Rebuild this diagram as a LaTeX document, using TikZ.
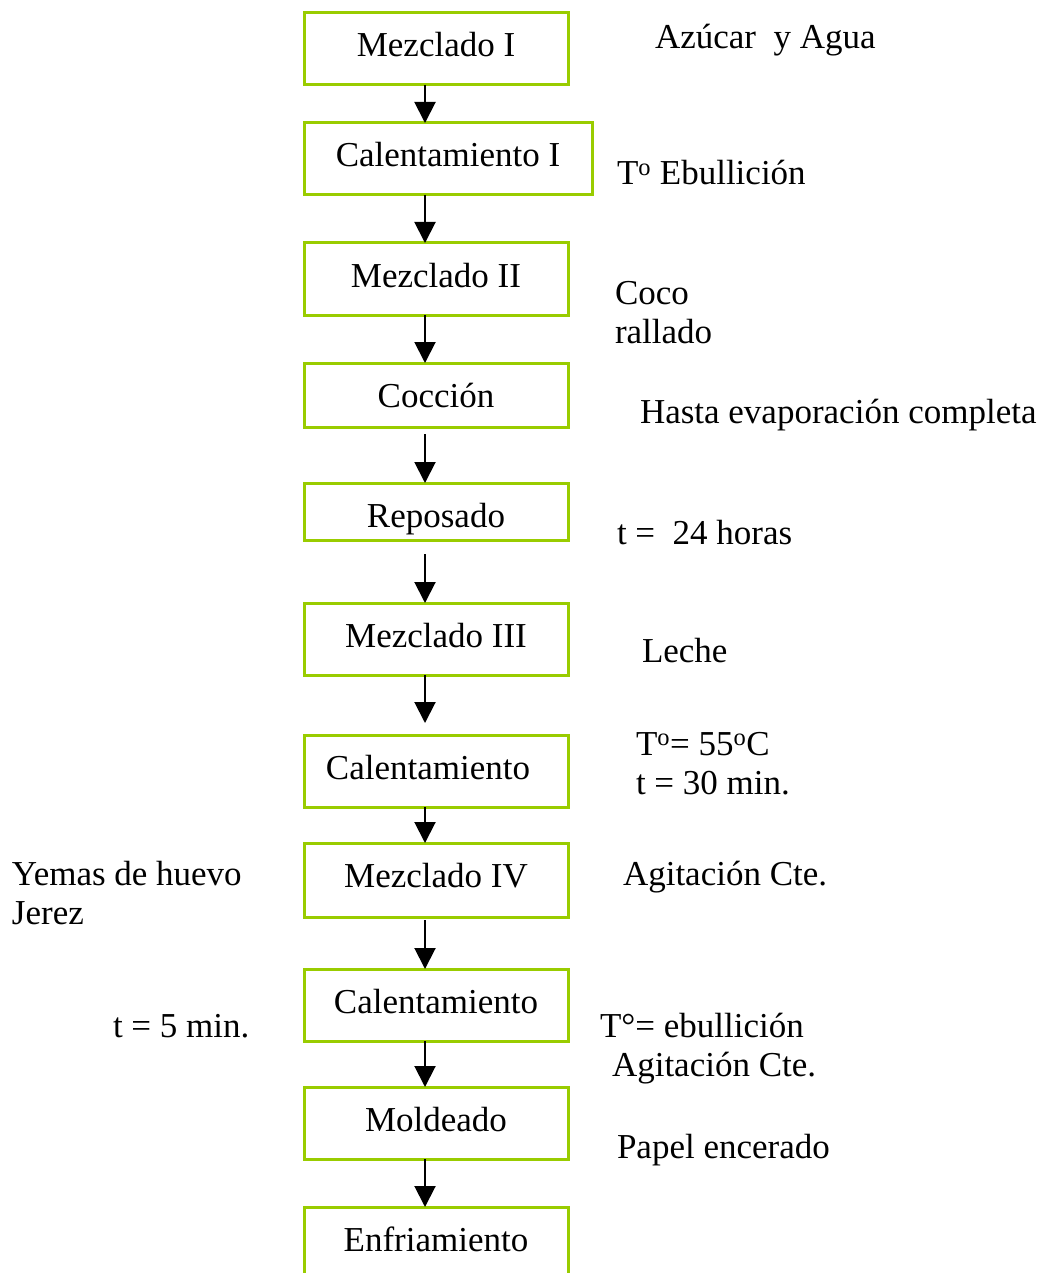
\documentclass[tikz,border=0pt]{standalone}
\usepackage{fontspec}
\setmainfont{Liberation Serif}
\usetikzlibrary{arrows.meta}

\definecolor{boxgreen}{RGB}{153,204,0}

% two left-aligned lines, aligned on the baseline of the first one
\newcommand\twolines[2]{\begin{tabular}[t]{@{}l@{}}#1\\#2\end{tabular}}

\begin{document}
\begin{tikzpicture}[x=1pt, y=-1pt,
  font=\fontsize{35}{39.5}\selectfont,
  stage/.style={draw=boxgreen, line width=3pt, rectangle, anchor=north,
    minimum width=264pt, inner sep=0pt, outer sep=0pt,
    text height=26pt, text depth=10pt, minimum height=72pt},
  flow/.style={draw=black, line width=2pt,
    -{Triangle[width=21pt,length=21pt]}},
  note/.style={anchor=base west, inner sep=0pt, outer sep=0pt}]

\useasboundingbox (0,0) rectangle (1050,1273);

% process stages
\node[stage] (m1) at (436,13) {Mezclado I};
\node[stage, minimum width=288pt] (c1) at (448,123) {Calentamiento I};
\node[stage] (m2) at (436,243) {Mezclado II};
\node[stage, minimum height=64pt, text depth=2pt] (coc) at (436,363) {Cocción};
\node[stage, minimum height=57pt, text height=31pt, text depth=0pt] (rep) at (436,483) {Reposado};
\node[stage] (m3) at (436,603) {Mezclado III};
\node[stage] (cal) at (436,735) {Calentamiento\hspace*{16pt}};
\node[stage, minimum height=74pt, text depth=12pt] (m4) at (436,843) {Mezclado IV};
\node[stage] (cal2) at (436,969) {Calentamiento};
\node[stage] (mol) at (436,1087) {Moldeado};
\node[stage] (enf) at (436,1207) {Enfriamiento};

% vertical line carrying the arrows
\coordinate (spine) at (425,0);

\draw[flow] (m1.south -| spine) -- (c1.north -| spine);
\draw[flow] (c1.south -| spine) -- (m2.north -| spine);
\draw[flow] (m2.south -| spine) -- (coc.north -| spine);
\draw[flow, shorten <=7pt] (coc.south -| spine) -- (rep.north -| spine);
\draw[flow, shorten <=14pt] (rep.south -| spine) -- (m3.north -| spine);
\draw[flow, shorten >=12pt] (m3.south -| spine) -- (cal.north -| spine);
\draw[flow] (cal.south -| spine) -- (m4.north -| spine);
\draw[flow, shorten <=3pt] (m4.south -| spine) -- (cal2.north -| spine);
\draw[flow] (cal2.south -| spine) -- (mol.north -| spine);
\draw[flow] (mol.south -| spine) -- (enf.north -| spine);

% conditions and ingredients
\node[note] (n1) at (655,49) {Azúcar\ \ y Agua};
\node[note] (n2) at (617,185) {T\textsuperscript{o} Ebullición};
\node[note] (n3) at (615,304) {\twolines{Coco}{rallado}};
\node[note] (n4) at (640,423) {Hasta evaporación completa};
\node[note] (n5) at (617,544) {t =\ \ 24 horas};
\node[note] (n6) at (642,662) {Leche};
\node[note] (n7) at (636,755) {\twolines{T\textsuperscript{o}= 55\textsuperscript{o}C}{t = 30 min.}};
\node[note] (n8) at (623,885) {Agitación Cte.};
\node[note] (n9) at (600,1037) {\twolines{T°= ebullición}{\hspace*{12pt}Agitación Cte.}};
\node[note] (n10) at (617,1158) {Papel encerado};
\node[note] (n11) at (12,885) {\twolines{Yemas de huevo}{Jerez}};
\node[note] (n12) at (113,1037) {t = 5 min.};

\end{tikzpicture}
\end{document}
